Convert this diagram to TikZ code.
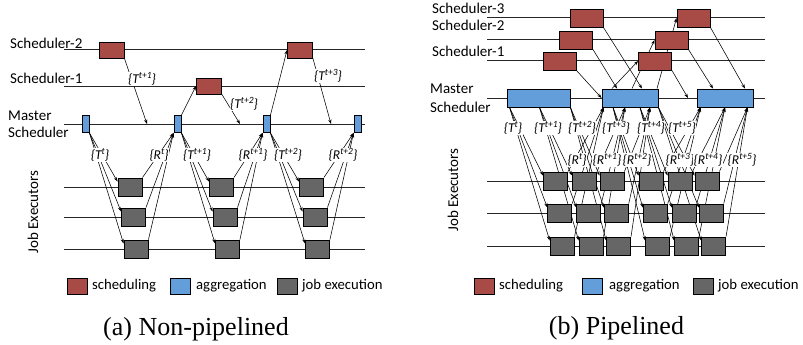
\documentclass[tikz,border=0pt]{standalone}
\usepackage{fontspec}
\setmainfont{Carlito}
\newfontfamily\capfont{Liberation Serif}
\usetikzlibrary{arrows.meta}
\pgfdeclarelayer{bg}
\pgfsetlayers{bg,main}
\definecolor{schedred}{RGB}{168,75,70}
\definecolor{aggblue}{RGB}{99,158,219}
\definecolor{jobgray}{RGB}{102,102,102}
\newcommand{\tset}[2]{\{#1\raisebox{0.4em}{\fontsize{9.5}{10}\selectfont#2}\}}

\begin{document}
\begin{tikzpicture}[x=1pt,y=-1pt,>={Stealth[length=4.5pt,width=3.2pt]},
	tline/.style={line width=1pt,black!85},
	conn/.style={->,line width=0.55pt},
	box/.style={draw,line width=0.9pt,inner sep=0pt},
	schedbox/.style={box,fill=schedred,minimum width=25pt,minimum height=16pt},
	rschedbox/.style={schedbox,minimum width=33pt,minimum height=18pt},
	aggbox/.style={box,fill=aggblue,minimum width=7pt,minimum height=17pt},
	jobbox/.style={box,fill=jobgray,minimum width=24pt,minimum height=18pt},
	rowlbl/.style={font=\fontsize{15}{17}\selectfont,inner sep=0pt,anchor=west,align=left},
	setlbl/.style={font=\fontsize{13.5}{15}\selectfont\itshape,fill=white,inner sep=0.5pt},
	legbox/.style={box,line width=0.8pt,minimum width=20pt,minimum height=16pt},
	legtext/.style={font=\fontsize{14.7}{17}\selectfont,inner sep=0pt,anchor=west},
	captext/.style={font=\capfont\fontsize{26}{30}\selectfont,inner sep=0pt,anchor=base}]
	\useasboundingbox (0,0) rectangle (803,345);

	% (a) non-pipelined
	\node[rowlbl] (l2) at (10,43) {Scheduler-2};
	\node[rowlbl] (l1) at (10,78) {Scheduler-1};
	\node[rowlbl] (lm) at (8,124) {Master\\Scheduler};
	\node[rowlbl,rotate=90,anchor=center] (lj) at (33,212) {Job Executors};

	\node[schedbox] (s2a) at (111.5,50) {};
	\node[schedbox] (s1a) at (209,86) {};
	\node[schedbox] (s2b) at (300,50) {};
	\foreach \i/\x in {1/85.5,2/177.5,3/266.5,4/357.5}
		\node[aggbox] (a\i) at (\x,124) {};
	\foreach \g/\x in {1/130,2/221.5,3/311.5}
		\foreach \r/\dx/\y in {1/0/187,2/3.5/217,3/6/249}
			\node[jobbox] (j\g\r) at (\x+\dx,\y) {};
	\coordinate (ml1) at (147,124);
	\coordinate (ml2) at (240,124);
	\coordinate (ml3) at (331,124);

	\node[setlbl] (u1) at (142,79) {\tset{T}{t+1}};
	\node[setlbl] (u2) at (244,104) {\tset{T}{t+2}};
	\node[setlbl] (u3) at (328,76) {\tset{T}{t+3}};
	\node[setlbl] (d1) at (100,155) {\tset{T}{t}};
	\node[setlbl] (d2) at (159,155) {\tset{R}{t}};
	\node[setlbl] (d3) at (197,155) {\tset{T}{t+1}};
	\node[setlbl] (d4) at (253,155) {\tset{R}{t+1}};
	\node[setlbl] (d5) at (288,155) {\tset{T}{t+2}};
	\node[setlbl] (d6) at (343,155) {\tset{R}{t+2}};

	% (b) pipelined
	\node[rowlbl] (p3) at (432,8) {Scheduler-3};
	\node[rowlbl] (p2) at (432,25) {Scheduler-2};
	\node[rowlbl] (p1) at (432,51) {Scheduler-1};
	\node[rowlbl,font=\fontsize{15}{19}\selectfont] (pm) at (430,98) {Master\\Scheduler};
	\node[rowlbl,rotate=90,anchor=center] (pj) at (453,190) {Job Executors};

	\node[rschedbox] (r3a) at (586.5,18) {};
	\node[rschedbox] (r3b) at (693.5,18) {};
	\node[rschedbox] (r2a) at (576,40) {};
	\node[rschedbox] (r2b) at (671.5,40) {};
	\node[rschedbox] (r1a) at (559.5,61) {};
	\node[rschedbox] (r1b) at (655,61) {};
	\node[aggbox,minimum width=63pt,minimum height=18pt] (b1) at (538.5,98) {};
	\node[aggbox,minimum width=56pt,minimum height=18pt] (b2) at (630,98) {};
	\node[aggbox,minimum width=56pt,minimum height=18pt] (b3) at (725,98) {};
	\foreach \c/\x in {1/555.5,2/584.5,3/612,4/651,5/680,6/707}
		\foreach \r/\dx/\y in {1/0/181,2/4.3/213,3/6.6/246}
			\node[jobbox] (q\c\r) at (\x+\dx,\y) {};
	\coordinate (ml4) at (688,98);
	\coordinate (ts1) at ([xshift=3pt]b1.south west);
	\coordinate (ts2) at ([xshift=1pt]b1.south);
	\coordinate (ts3) at (b1.south east);
	\coordinate (ts4) at ([xshift=-17pt]b2.south);
	\coordinate (ts5) at ([xshift=10pt]b2.south);
	\coordinate (ts6) at (b2.south east);
	\coordinate (rd1) at ([xshift=2pt]b2.south west);
	\coordinate (rd2) at ([xshift=-5pt]b2.south);
	\coordinate (rd3) at ([xshift=20pt]b2.south);
	\coordinate (rd4) at ([xshift=4pt]b3.south west);
	\coordinate (rd5) at (b3.south);
	\coordinate (rd6) at ([xshift=-6pt]b3.south east);

	\foreach \c/\x/\s in {1/513/t,2/548/t+1,3/582/t+2,4/616/t+3,5/651/t+4,6/682/t+5}
		\node[setlbl] (tt\c) at (\x,128) {\tset{T}{\s}};
	\foreach \c/\x/\s in {1/577/t,2/607/t+1,3/637/t+2,4/680/t+3,5/708/t+4,6/742/t+5}
		\node[setlbl] (rr\c) at (\x,160) {\tset{R}{\s}};

	\begin{pgfonlayer}{bg}
		% time lines
		\foreach \y in {50,86,124,187,217,249}
			\draw[tline] (64,\y) -- (365,\y);
		\foreach \y in {18,40,61,98,181,213,246}
			\draw[tline] (487,\y) -- (765,\y);
		% (a)
		\draw[conn] (s2a.south east) -- (ml1);
		\draw[conn] (a2.north east) -- (s1a.west);
		\draw[conn] (s1a.south east) -- (ml2);
		\draw[conn] (a3.north east) -- (s2b.west);
		\draw[conn] (s2b.south east) -- (ml3);
		\foreach \g/\s/\d in {1/1/2,2/2/3,3/3/4}
			\foreach \r in {1,2,3} {
				\draw[conn] (a\s.south east) -- ([yshift=-4pt]j\g\r.north west);
				\draw[conn] (j\g\r.north east) -- (a\d.south west);
			}
		% (b)
		\draw[conn] (r3a.south east) -- ([xshift=12pt]b2.north);
		\draw[conn] (r2a.south east) -- ([xshift=-13pt]b2.north);
		\draw[conn] (r1a.south east) -- (b2.west);
		\draw[conn] ([xshift=-18pt]b2.north) -- (r1b.west);
		\draw[conn] ([xshift=2pt]b2.north) -- (r2b.west);
		\draw[conn] ([xshift=27pt]b2.north) -- (r3b.west);
		\draw[conn] (r1b.south east) -- (ml4);
		\draw[conn] (r2b.south east) -- ([xshift=-12pt]b3.north);
		\draw[conn] (r3b.south east) -- ([xshift=20pt]b3.north);
		\foreach \c in {1,...,6}
			\foreach \r in {1,2,3} {
				\draw[conn] (ts\c) -- ([yshift=-4pt]q\c\r.north west);
				\draw[conn] (q\c\r.north east) -- (rd\c);
			}
	\end{pgfonlayer}

	% legends
	\node[legbox,fill=schedred] (ka1) at (77,286) {};
	\node[legtext] (kt1) at (92,286) {scheduling};
	\node[legbox,fill=aggblue] (ka2) at (180.5,286) {};
	\node[legtext] (kt2) at (196,286) {aggregation};
	\node[legbox,fill=jobgray] (ka3) at (287,286) {};
	\node[legtext] (kt3) at (302,286) {job execution};
	\node[legbox,fill=schedred] (kb1) at (484,286) {};
	\node[legtext] (kv1) at (499,286) {scheduling};
	\node[legbox,fill=aggblue] (kb2) at (592.5,286) {};
	\node[legtext] (kv2) at (609,286) {aggregation};
	\node[legbox,fill=jobgray] (kb3) at (703,286) {};
	\node[legtext] (kv3) at (718,286) {job execution};

	\node[captext] (capa) at (196,335) {(a) Non-pipelined};
	\node[captext] (capb) at (616.5,334) {(b) Pipelined};
\end{tikzpicture}
\end{document}
